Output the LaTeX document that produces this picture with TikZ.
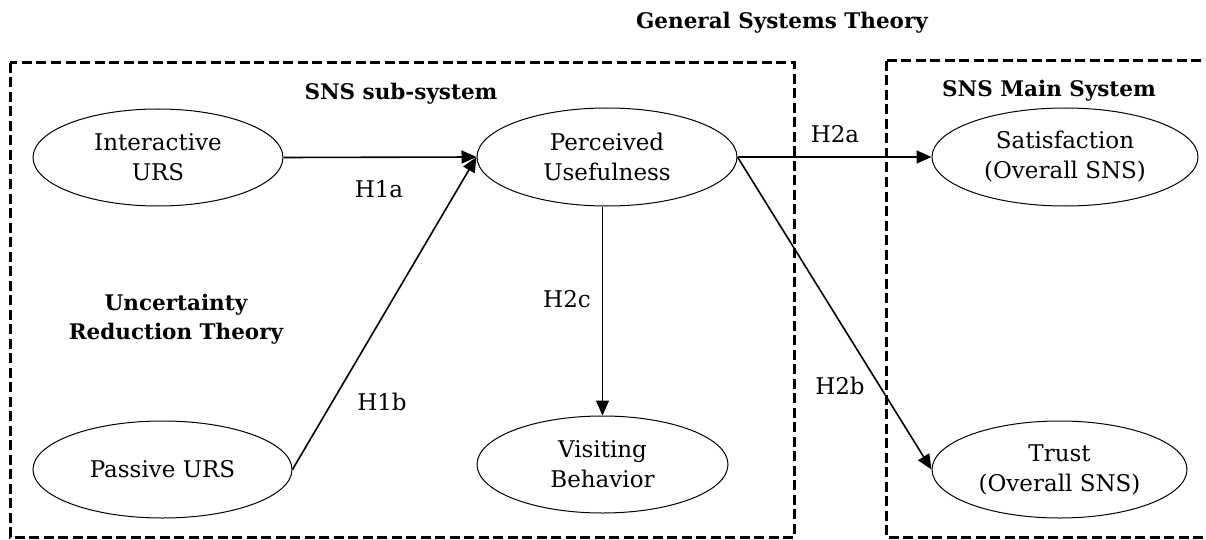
\documentclass[tikz,border=0pt]{standalone}
\usepackage{fontspec}
\setmainfont{DejaVu Serif}
\usetikzlibrary{shapes.geometric,arrows.meta}
\begin{document}
\begin{tikzpicture}[x=1pt,y=-1pt,
  every node/.style={font=\fontsize{23}{30}\selectfont},
  ell/.style={draw,ellipse,line width=1pt,inner sep=0pt,align=center},
  lbl/.style={anchor=base},
  ttl/.style={anchor=base,font=\fontsize{21.5}{29}\selectfont\bfseries},
  sysbox/.style={draw,line width=3pt,dash pattern=on 10pt off 4.5pt},
  arr/.style={-{Triangle[length=15pt,width=13pt]},line width=1.6pt},
  thinarr/.style={-{Triangle[length=15pt,width=13pt]},line width=1pt}]
\useasboundingbox (0,0) rectangle (1206,540);
% system boxes
\draw[sysbox] (10,63) rectangle (794,537);
\draw[sysbox] (886,61) rectangle (1220,537);
% titles
\node[ttl] (gst) at (782,29) {General Systems Theory};
\node[ttl] (sub) at (401,100) {SNS sub-system};
\node[ttl] (main) at (1049,97) {SNS Main System};
\node[align=center,font=\fontsize{21.5}{29}\selectfont\bfseries] (urt) at (176,319) {Uncertainty\\Reduction Theory};
% constructs
\node[ell,minimum width=250pt,minimum height=97pt] (iurs) at (158,157.5) {Interactive\\URS};
\node[ell,minimum width=259pt,minimum height=97pt] (purs) at (162.5,469.5) {Passive URS};
\node[ell,minimum width=260pt,minimum height=98pt] (pu) at (607,157) {Perceived\\Usefulness};
\node[ell,minimum width=251pt,minimum height=97pt] (vb) at (602.5,464.5) {Visiting\\Behavior};
\node[ell,minimum width=266pt,minimum height=98pt] (sat) at (1065,157) {Satisfaction\\(Overall SNS)};
\node[ell,minimum width=255pt,minimum height=97pt] (tr) at (1059.5,469.5) {Trust\\(Overall SNS)};
% paths
\draw[arr] (iurs.east) -- (pu.west);
\draw[arr] (purs.east) -- (pu.west);
\draw[arr] (pu.east) -- (sat.west);
\draw[arr] (pu.east) -- (tr.west);
\draw[thinarr] (vb.north |- pu.south) -- (vb.north);
% labels
\node[lbl] (h1a) at (379,197) {H1a};
\node[lbl] (h1b) at (382,410) {H1b};
\node[lbl] (h2a) at (835,143) {H2a};
\node[lbl] (h2b) at (840,394) {H2b};
\node[lbl] (h2c) at (567,307) {H2c};
\end{tikzpicture}
\end{document}
